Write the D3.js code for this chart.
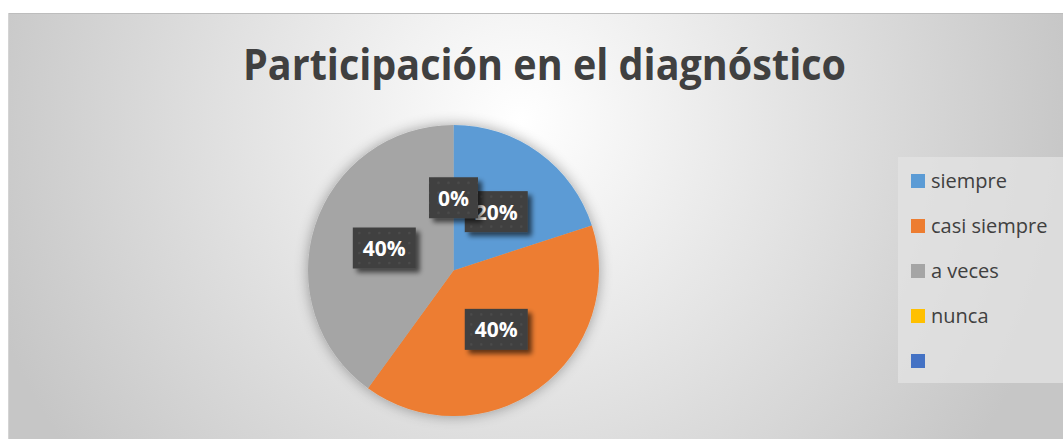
<!DOCTYPE html>
<html>
<head>
<meta charset="utf-8">
<script src="https://cdn.jsdelivr.net/npm/d3@7"></script>
<style>
  body { margin: 0; background: #fff; }
  svg { display: block; }
</style>
</head>
<body>
<script>
// data
const categories = ['siempre', 'casi siempre', 'a veces', 'nunca', ''];
const values = [2, 4, 4, 0, null];
const labels = ['20%', '40%', '40%', '0%', null];
const colors = ['#5b9bd5', '#ed7d31', '#a5a5a5', '#ffc000', '#4472c4'];
const title = 'Participación en el diagnóstico';

const W = 1063, H = 439;
const svg = d3.select('body').append('svg').attr('width', W).attr('height', H);
const defs = svg.append('defs');

// background gradient
const bg = defs.append('radialGradient').attr('id', 'bg')
  .attr('gradientUnits', 'userSpaceOnUse')
  .attr('cx', 520).attr('cy', 120).attr('r', 560);
bg.append('stop').attr('offset', 0).attr('stop-color', '#ffffff');
bg.append('stop').attr('offset', 1).attr('stop-color', '#c6c6c6');

// shadows
const sh = defs.append('filter').attr('id', 'pieShadow')
  .attr('x', '-30%').attr('y', '-30%').attr('width', '160%').attr('height', '160%');
sh.append('feGaussianBlur').attr('in', 'SourceAlpha').attr('stdDeviation', 7).attr('result', 'b');
sh.append('feComponentTransfer').attr('in', 'b').attr('result', 'b2')
  .append('feFuncA').attr('type', 'linear').attr('slope', 0.35);
const m1 = sh.append('feMerge');
m1.append('feMergeNode').attr('in', 'b2');
m1.append('feMergeNode').attr('in', 'SourceGraphic');

const lsh = defs.append('filter').attr('id', 'lblShadow')
  .attr('x', '-30%').attr('y', '-30%').attr('width', '170%').attr('height', '170%');
lsh.append('feGaussianBlur').attr('in', 'SourceAlpha').attr('stdDeviation', 2.5).attr('result', 'b');
lsh.append('feOffset').attr('in', 'b').attr('dx', 4).attr('dy', 4).attr('result', 'o');
lsh.append('feComponentTransfer').attr('in', 'o').attr('result', 'o2')
  .append('feFuncA').attr('type', 'linear').attr('slope', 0.6);
const m2 = lsh.append('feMerge');
m2.append('feMergeNode').attr('in', 'o2');
m2.append('feMergeNode').attr('in', 'SourceGraphic');

// dotted label pattern
const pat = defs.append('pattern').attr('id', 'dots')
  .attr('patternUnits', 'userSpaceOnUse').attr('width', 10).attr('height', 10);
pat.append('rect').attr('width', 10).attr('height', 10).attr('fill', '#404040');
pat.append('circle').attr('cx', 5).attr('cy', 5).attr('r', 1.3).attr('fill', '#4c4c4c');

// chart area
svg.append('rect').attr('x', 8).attr('y', 13).attr('width', W - 8).attr('height', H - 13)
  .attr('fill', 'url(#bg)');
svg.append('line').attr('x1', 8).attr('x2', W).attr('y1', 13.5).attr('y2', 13.5)
  .attr('stroke', '#bdbdbd').attr('stroke-width', 1);
svg.append('line').attr('x1', 8.5).attr('x2', 8.5).attr('y1', 13).attr('y2', H)
  .attr('stroke', '#d4d4d4').attr('stroke-width', 1);

// title (narrowed to the width of the original)
svg.append('text').attr('x', 544.5).attr('y', 80)
  .attr('text-anchor', 'middle')
  .attr('textLength', 603).attr('lengthAdjust', 'spacingAndGlyphs')
  .style('font-family', '"Open Sans", sans-serif').style('font-weight', 700)
  .style('font-size', '43px').attr('fill', '#404040').text(title);

// pie
const cx = 453.5, cy = 270.5, r = 145.5;
const pie = d3.pie().sort(null).value(d => d.value || 0);
const data = categories.map((c, i) => ({ cat: c, value: values[i], label: labels[i], color: colors[i] }));
const arcs = pie(data);
const arc = d3.arc().innerRadius(0).outerRadius(r);
const lblArc = d3.arc().innerRadius(r * 0.5).outerRadius(r * 0.5);

const g = svg.append('g').attr('transform', `translate(${cx},${cy})`);
g.append('g').attr('filter', 'url(#pieShadow)')
  .selectAll('path').data(arcs.filter(d => d.data.value > 0)).join('path')
  .attr('d', arc).attr('fill', d => d.data.color);

// data labels
const lg = g.selectAll('g.lbl').data(arcs.filter(d => d.data.label != null)).join('g')
  .attr('class', 'lbl')
  .attr('transform', d => `translate(${lblArc.centroid(d)})`);
lg.each(function (d) {
  const s = d3.select(this);
  const w = d.data.label.length > 2 ? 63 : 49;
  s.append('rect').attr('x', -w / 2).attr('y', -20.5).attr('width', w).attr('height', 41)
    .attr('fill', 'url(#dots)').attr('filter', 'url(#lblShadow)');
  s.append('text').attr('text-anchor', 'middle').attr('y', 8)
    .style('font-family', '"Open Sans", sans-serif').style('font-weight', 700)
    .style('font-size', '21px').attr('fill', '#ffffff').text(d.data.label);
});

// legend
svg.append('rect').attr('x', 898).attr('y', 157).attr('width', W - 898).attr('height', 226)
  .attr('fill', '#e3e3e3').attr('fill-opacity', 0.75);
const ly = d3.scalePoint().domain(d3.range(categories.length)).range([181, 361]);
const leg = svg.append('g').selectAll('g').data(data).join('g')
  .attr('transform', (d, i) => `translate(911,${ly(i)})`);
leg.append('rect').attr('x', 0).attr('y', -7).attr('width', 14).attr('height', 14)
  .attr('fill', d => d.color);
leg.append('text').attr('x', 20).attr('y', 7)
  .style('font-family', '"Open Sans", sans-serif').style('font-size', '20px')
  .attr('fill', '#404040').text(d => d.cat);
</script>
</body>
</html>
